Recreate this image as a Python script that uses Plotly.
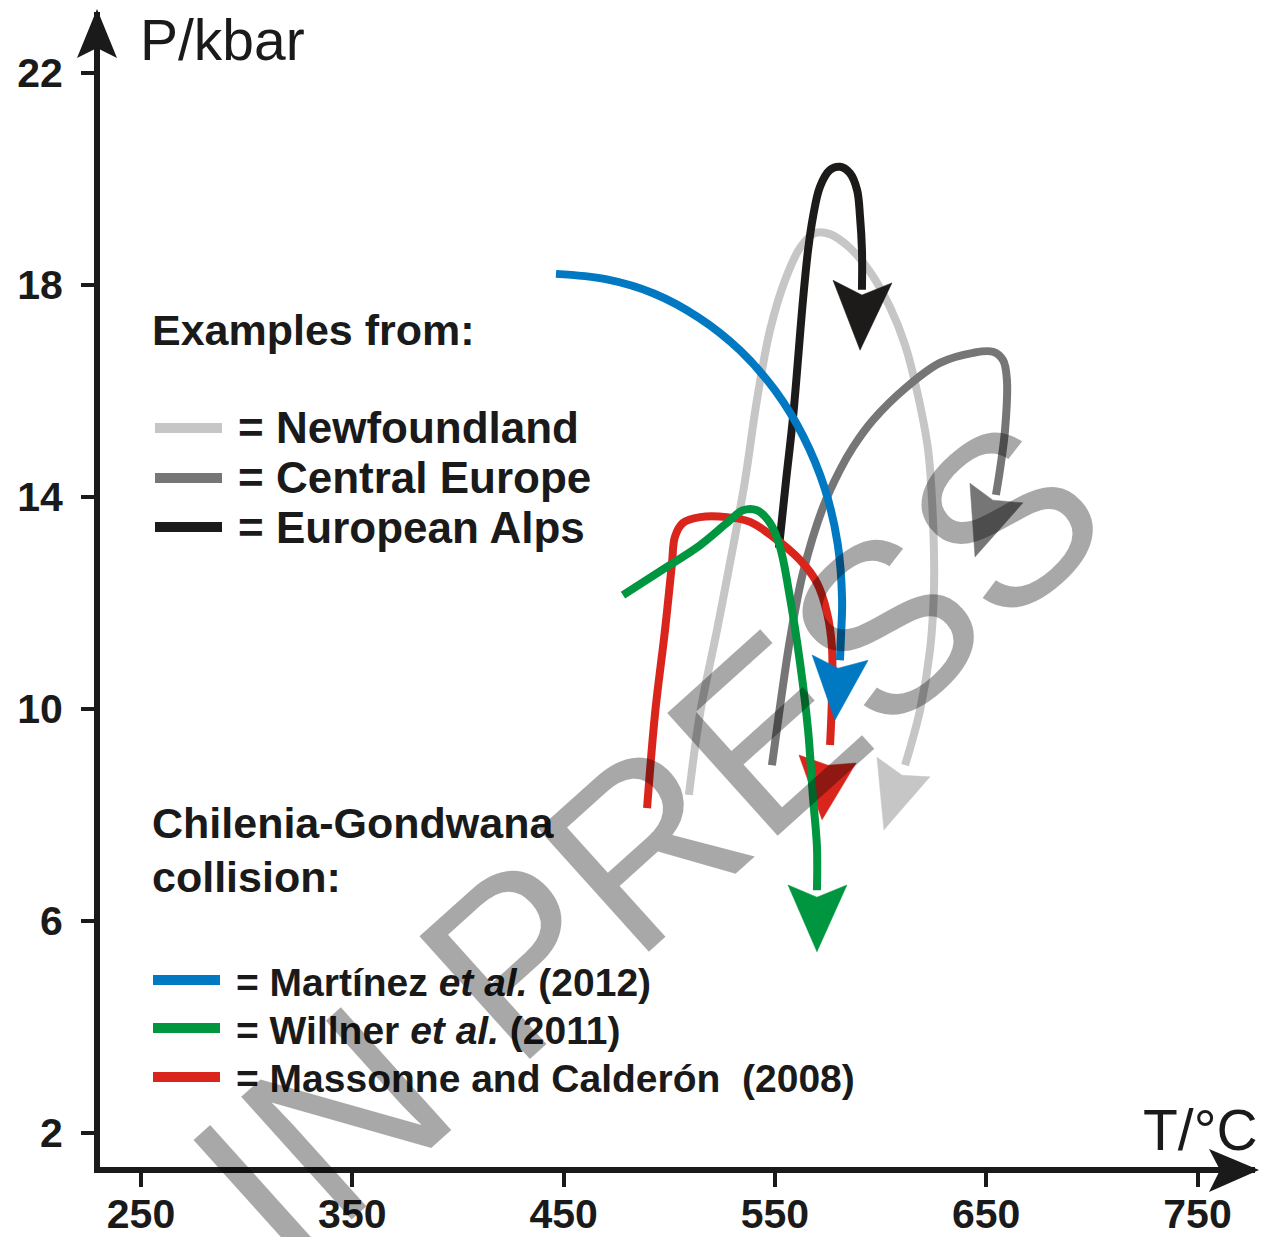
import plotly.graph_objects as go

# ---------------- data (T in °C, P in kbar) ----------------
# Newfoundland (light grey)
nf_T = [509.3, 514.6, 522.6, 530.2, 535.9, 541.5, 547.7, 554.8, 561.9, 569.0, 576.1,
        585.5, 595.0, 604.5, 611.6, 617.7, 622.5, 624.8, 625.3, 623.4, 618.7, 611.6]
nf_P = [8.38, 9.92, 11.49, 13.06, 14.32, 15.83, 17.15, 18.09, 18.70, 18.98, 18.96,
        18.70, 18.25, 17.58, 16.87, 15.92, 14.89, 13.57, 12.30, 11.11, 9.98, 8.94]
nf_head_T = [598.3, 601.6, 623.4, 610.2, 598.3]
nf_head_P = [9.09, 7.72, 8.72, 8.75, 9.09]

# Central Europe (dark grey)
ce_T = [548.6, 552.4, 557.1, 563.3, 572.8, 580.8, 587.0, 596.4, 612.5, 628.1, 643.8,
        653.2, 658.0, 659.8, 658.9, 656.5, 654.6]
ce_P = [8.94, 10.04, 11.30, 12.57, 13.81, 14.51, 14.94, 15.45, 16.08, 16.53, 16.72,
        16.74, 16.58, 16.21, 15.26, 14.51, 14.04]
ce_head_T = [642.3, 644.7, 667.4, 653.2, 642.3]
ce_head_P = [14.26, 12.87, 13.89, 13.94, 14.26]

# European Alps (black)
ea_T = [551.9, 555.3, 558.6, 563.3, 565.7, 568.0, 571.3, 576.1, 580.8, 585.5, 588.9,
        590.3, 591.2, 591.2]
ea_P = [13.04, 14.32, 15.51, 17.72, 18.66, 19.28, 19.85, 20.17, 20.23, 20.11, 19.79,
        19.28, 18.66, 17.91]
ea_head_T = [577.5, 590.3, 605.4, 591.2, 577.5]
ea_head_P = [18.09, 16.77, 18.04, 17.81, 18.09]

# Massonne and Calderón (2008) (red)
mc_T = [489.5, 493.3, 498.0, 501.3, 502.7, 506.5, 514.6, 527.3, 538.2, 549.1, 561.9,
        569.9, 574.7, 577.0, 577.0, 576.1]
mc_P = [8.13, 9.92, 11.49, 12.75, 13.25, 13.51, 13.62, 13.62, 13.53, 13.25, 12.81,
        12.38, 11.81, 11.17, 10.23, 9.32]
mc_head_T = [561.4, 572.3, 588.4, 575.1, 561.4]
mc_head_P = [9.13, 7.91, 8.98, 8.94, 9.13]

# Willner et al. (2011) (green)
wi_T = [478.1, 498.9, 514.6, 527.3, 534.9, 541.5, 547.7, 552.4, 557.1, 561.9, 565.7,
        568.0, 569.9, 569.9]
wi_P = [12.15, 12.68, 13.09, 13.51, 13.75, 13.75, 13.51, 13.06, 12.11, 10.87, 9.60,
        8.34, 7.40, 6.58]
wi_head_T = [556.2, 569.9, 584.1, 569.9, 556.2]
wi_head_P = [6.68, 5.42, 6.68, 6.45, 6.68]

# Martínez et al. (2012) (blue)
ma_T = [446.4, 469.9, 492.7, 514.1, 533.4, 550.1, 563.6, 573.6, 579.7, 581.8, 581.3,
        580.8]
ma_P = [18.21, 18.11, 17.84, 17.38, 16.77, 16.01, 15.13, 14.16, 13.12, 12.06, 11.40,
        10.92]
ma_head_T = [567.6, 578.4, 594.1, 579.9, 567.6]
ma_head_P = [11.02, 9.79, 10.92, 10.77, 11.02]

x_ticks = [250, 350, 450, 550, 650, 750]
y_ticks = [2, 6, 10, 14, 18, 22]

C_NF = "#c6c6c6"
C_CE = "#767676"
C_EA = "#1d1a1a"
C_MC = "#da251d"
C_WI = "#009640"
C_MA = "#0079c2"

# ---------------- layout calibration (pixels) ----------------
W, H = 1270, 1237
ML, MR, MT, MB = 100, 15, 12, 70
PX_DEG, PX_KBAR = 2.113, 53.0
REF_X, REF_T = 141.0, 250.0
REF_Y, REF_P = 73.0, 22.0
x_range = [REF_T + (ML - REF_X) / PX_DEG, REF_T + (W - MR - REF_X) / PX_DEG]
y_range = [REF_P - (H - MB - REF_Y) / PX_KBAR, REF_P + (REF_Y - MT) / PX_KBAR]
PW, PH = W - ML - MR, H - MT - MB


def px(x):
    return (x - ML) / PW


def py(y):
    return (H - MB - y) / PH


fig = go.Figure()

series = [
    (nf_T, nf_P, nf_head_T, nf_head_P, C_NF),
    (ce_T, ce_P, ce_head_T, ce_head_P, C_CE),
    (ea_T, ea_P, ea_head_T, ea_head_P, C_EA),
    (mc_T, mc_P, mc_head_T, mc_head_P, C_MC),
    (wi_T, wi_P, wi_head_T, wi_head_P, C_WI),
    (ma_T, ma_P, ma_head_T, ma_head_P, C_MA),
]
for t, p, ht, hp, c in series:
    fig.add_trace(go.Scatter(x=t, y=p, mode="lines",
                             line=dict(color=c, width=8, shape="spline", smoothing=1.0),
                             hoverinfo="skip", showlegend=False))
    fig.add_trace(go.Scatter(x=ht, y=hp, mode="lines", fill="toself", fillcolor=c,
                             line=dict(color=c, width=0.5),
                             hoverinfo="skip", showlegend=False))

shapes = []
# axis arrows
shapes.append(dict(type="path", xref="paper", yref="paper",
                   path=f"M{px(97)},{py(9)} L{px(117)},{py(58)} L{px(97)},{py(48)} L{px(77)},{py(58)} Z",
                   fillcolor="#1a1a1a", line=dict(width=0)))
shapes.append(dict(type="path", xref="paper", yref="paper",
                   path=f"M{px(1259)},{py(1170)} L{px(1209)},{py(1149)} L{px(1220)},{py(1170)} L{px(1209)},{py(1192)} Z",
                   fillcolor="#1a1a1a", line=dict(width=0)))

# legend samples
for yy, c in [(428, C_NF), (478, C_CE), (527, C_EA)]:
    shapes.append(dict(type="line", xref="paper", yref="paper",
                       x0=px(155), x1=px(222), y0=py(yy), y1=py(yy),
                       line=dict(color=c, width=10)))
for yy, c in [(980, C_MA), (1028, C_WI), (1077, C_MC)]:
    shapes.append(dict(type="line", xref="paper", yref="paper",
                       x0=px(153), x1=px(220), y0=py(yy), y1=py(yy),
                       line=dict(color=c, width=10)))

BOLD = "Liberation Sans"

ann = []


def txt(x, y, s, size, family=BOLD, weight="bold", color="#1a1a1a", xanchor="left"):
    ann.append(dict(x=px(x), y=py(y), xref="paper", yref="paper", text=s,
                    showarrow=False, xanchor=xanchor, yanchor="middle",
                    font=dict(family=family, size=size, color=color, weight=weight)))


txt(150, 330, "Examples from:", 43)
txt(236, 428, "= Newfoundland", 44)
txt(236, 478, "= Central Europe", 44)
txt(236, 527, "= European Alps", 44)
txt(150, 823, "Chilenia-Gondwana", 43)
txt(150, 877, "collision:", 43)
txt(234, 982, "= Martínez <i>et al.</i> (2012)", 39)
txt(234, 1030, "= Willner <i>et al.</i> (2011)", 39)
txt(234, 1078, "= Massonne and Calderón  (2008)", 39)
txt(138, 40, "P/kbar", 57, "Liberation Sans", "normal")
txt(1141, 1130, "T/°C", 57, "Liberation Sans", "normal")

# watermark
ann.append(dict(x=px(648), y=py(841), xref="paper", yref="paper", text="IN PRESS",
                showarrow=False, xanchor="center", yanchor="middle", textangle=-42,
                font=dict(family="Liberation Sans", size=240, color="rgba(0,0,0,0.34)")))

fig.update_layout(
    width=W, height=H,
    margin=dict(l=ML, r=MR, t=MT, b=MB, pad=0, autoexpand=False),
    paper_bgcolor="white", plot_bgcolor="white",
    shapes=shapes, annotations=ann,
    xaxis=dict(range=x_range, showgrid=False, zeroline=False, showline=True,
               automargin=False,
               linewidth=6, linecolor="#1a1a1a", ticks="outside", ticklen=14,
               tickwidth=4, tickcolor="#1a1a1a", tickvals=x_ticks,
               ticktext=[str(v) for v in x_ticks], ticklabelstandoff=-8,
               tickfont=dict(family=BOLD, size=41, color="#1a1a1a", weight="bold")),
    yaxis=dict(range=y_range, showgrid=False, zeroline=False, showline=True,
               automargin=False,
               linewidth=6, linecolor="#1a1a1a", ticks="outside", ticklen=13,
               tickwidth=4, tickcolor="#1a1a1a", tickvals=y_ticks,
               ticktext=[str(v) for v in y_ticks], ticklabelstandoff=10,
               tickfont=dict(family=BOLD, size=41, color="#1a1a1a", weight="bold")),
)

fig.write_html("out.html", config={"displayModeBar": False, "staticPlot": True},
               post_script="document.body.style.margin='0px';document.body.style.padding='0px';")
